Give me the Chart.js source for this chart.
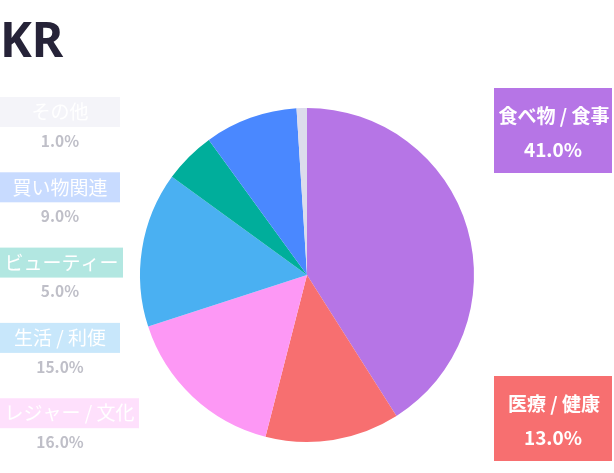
<!DOCTYPE html>
<html>
<head>
<meta charset="utf-8">
<script src="https://cdn.jsdelivr.net/npm/chart.js@4/dist/chart.umd.min.js"></script>
<style>
html,body{margin:0;padding:0;background:#fff;overflow:hidden;}
canvas{display:block;}
</style>
</head>
<body>
<canvas id="c" width="614" height="473"></canvas>
<script>
const chartTitle = 'KR';
const categories = ['食べ物 / 食事', '医療 / 健康', 'レジャー / 文化', '生活 / 利便', 'ビューティー', '買い物関連', 'その他'];
const values = [41, 13, 16, 15, 5, 9, 1];
const colors = ['#b675e6', '#f76f70', '#fd98f5', '#4ab0f2', '#00ae9b', '#4a88ff', '#dcdcec'];

const CJK = '"Noto Sans CJK JP", "Noto Sans", sans-serif';

function hexA(hex, a) {
  const n = parseInt(hex.slice(1), 16);
  return `rgba(${(n >> 16) & 255},${(n >> 8) & 255},${n & 255},${a})`;
}

const labelPlugin = {
  id: 'sideLabels',
  afterDatasetsDraw(chart) {
    const ctx = chart.ctx;
    const meta = chart.getDatasetMeta(0);
    const total = values.reduce((a, b) => a + b, 0);
    const items = meta.data.map((arc, i) => {
      const mid = (arc.startAngle + arc.endAngle) / 2;
      return { i, mid, right: Math.cos(mid) > 0 };
    });
    const right = items.filter(d => d.right).sort((a, b) => a.mid - b.mid);
    const left = items.filter(d => !d.right).sort((a, b) => b.mid - a.mid);

    ctx.save();
    // title
    ctx.fillStyle = '#262338';
    ctx.font = 'bold 48px "Noto Sans", sans-serif';
    ctx.textAlign = 'left';
    ctx.textBaseline = 'alphabetic';
    ctx.fillText(chartTitle, 0, 57);

    // right labels
    const rightTops = [88, 376];
    right.forEach((d, k) => {
      const top = rightTops[k] !== undefined ? rightTops[k] : 88 + k * 288;
      const x = 494, w = 118, h = 85;
      ctx.fillStyle = colors[d.i];
      ctx.fillRect(x, top, w, h);
      ctx.fillStyle = '#ffffff';
      ctx.textAlign = 'center';
      ctx.textBaseline = 'middle';
      ctx.font = 'bold 19px ' + CJK;
      ctx.fillText(categories[d.i], x + w / 2 + 1, top + 28);
      ctx.fillText((values[d.i] / total * 100).toFixed(1) + '%', x + w / 2, top + 62);
    });

    // left labels
    left.forEach((d, k) => {
      const top = 97 + k * 75.3;
      ctx.font = '19px ' + CJK;
      const tw = ctx.measureText(categories[d.i]).width;
      const w = Math.max(120, tw + 9);
      ctx.fillStyle = hexA(colors[d.i], 0.3);
      ctx.fillRect(0, top, w, 30);
      ctx.fillStyle = '#ffffff';
      ctx.textAlign = 'center';
      ctx.textBaseline = 'middle';
      ctx.fillText(categories[d.i], w / 2, top + 15);
      ctx.fillStyle = '#bfbfc8';
      ctx.font = 'bold 15.5px ' + CJK;
      ctx.fillText((values[d.i] / total * 100).toFixed(1) + '%', 60, top + 44);
    });
    ctx.restore();
  }
};

new Chart(document.getElementById('c'), {
  type: 'pie',
  data: {
    labels: categories,
    datasets: [{
      data: values,
      backgroundColor: colors,
      borderWidth: 0
    }]
  },
  options: {
    responsive: false,
    animation: false,
    layout: { padding: { top: 108, bottom: 31, left: 140, right: 140 } },
    plugins: {
      legend: { display: false },
      tooltip: { enabled: false },
      title: { display: false }
    }
  },
  plugins: [labelPlugin]
});
</script>
</body>
</html>
